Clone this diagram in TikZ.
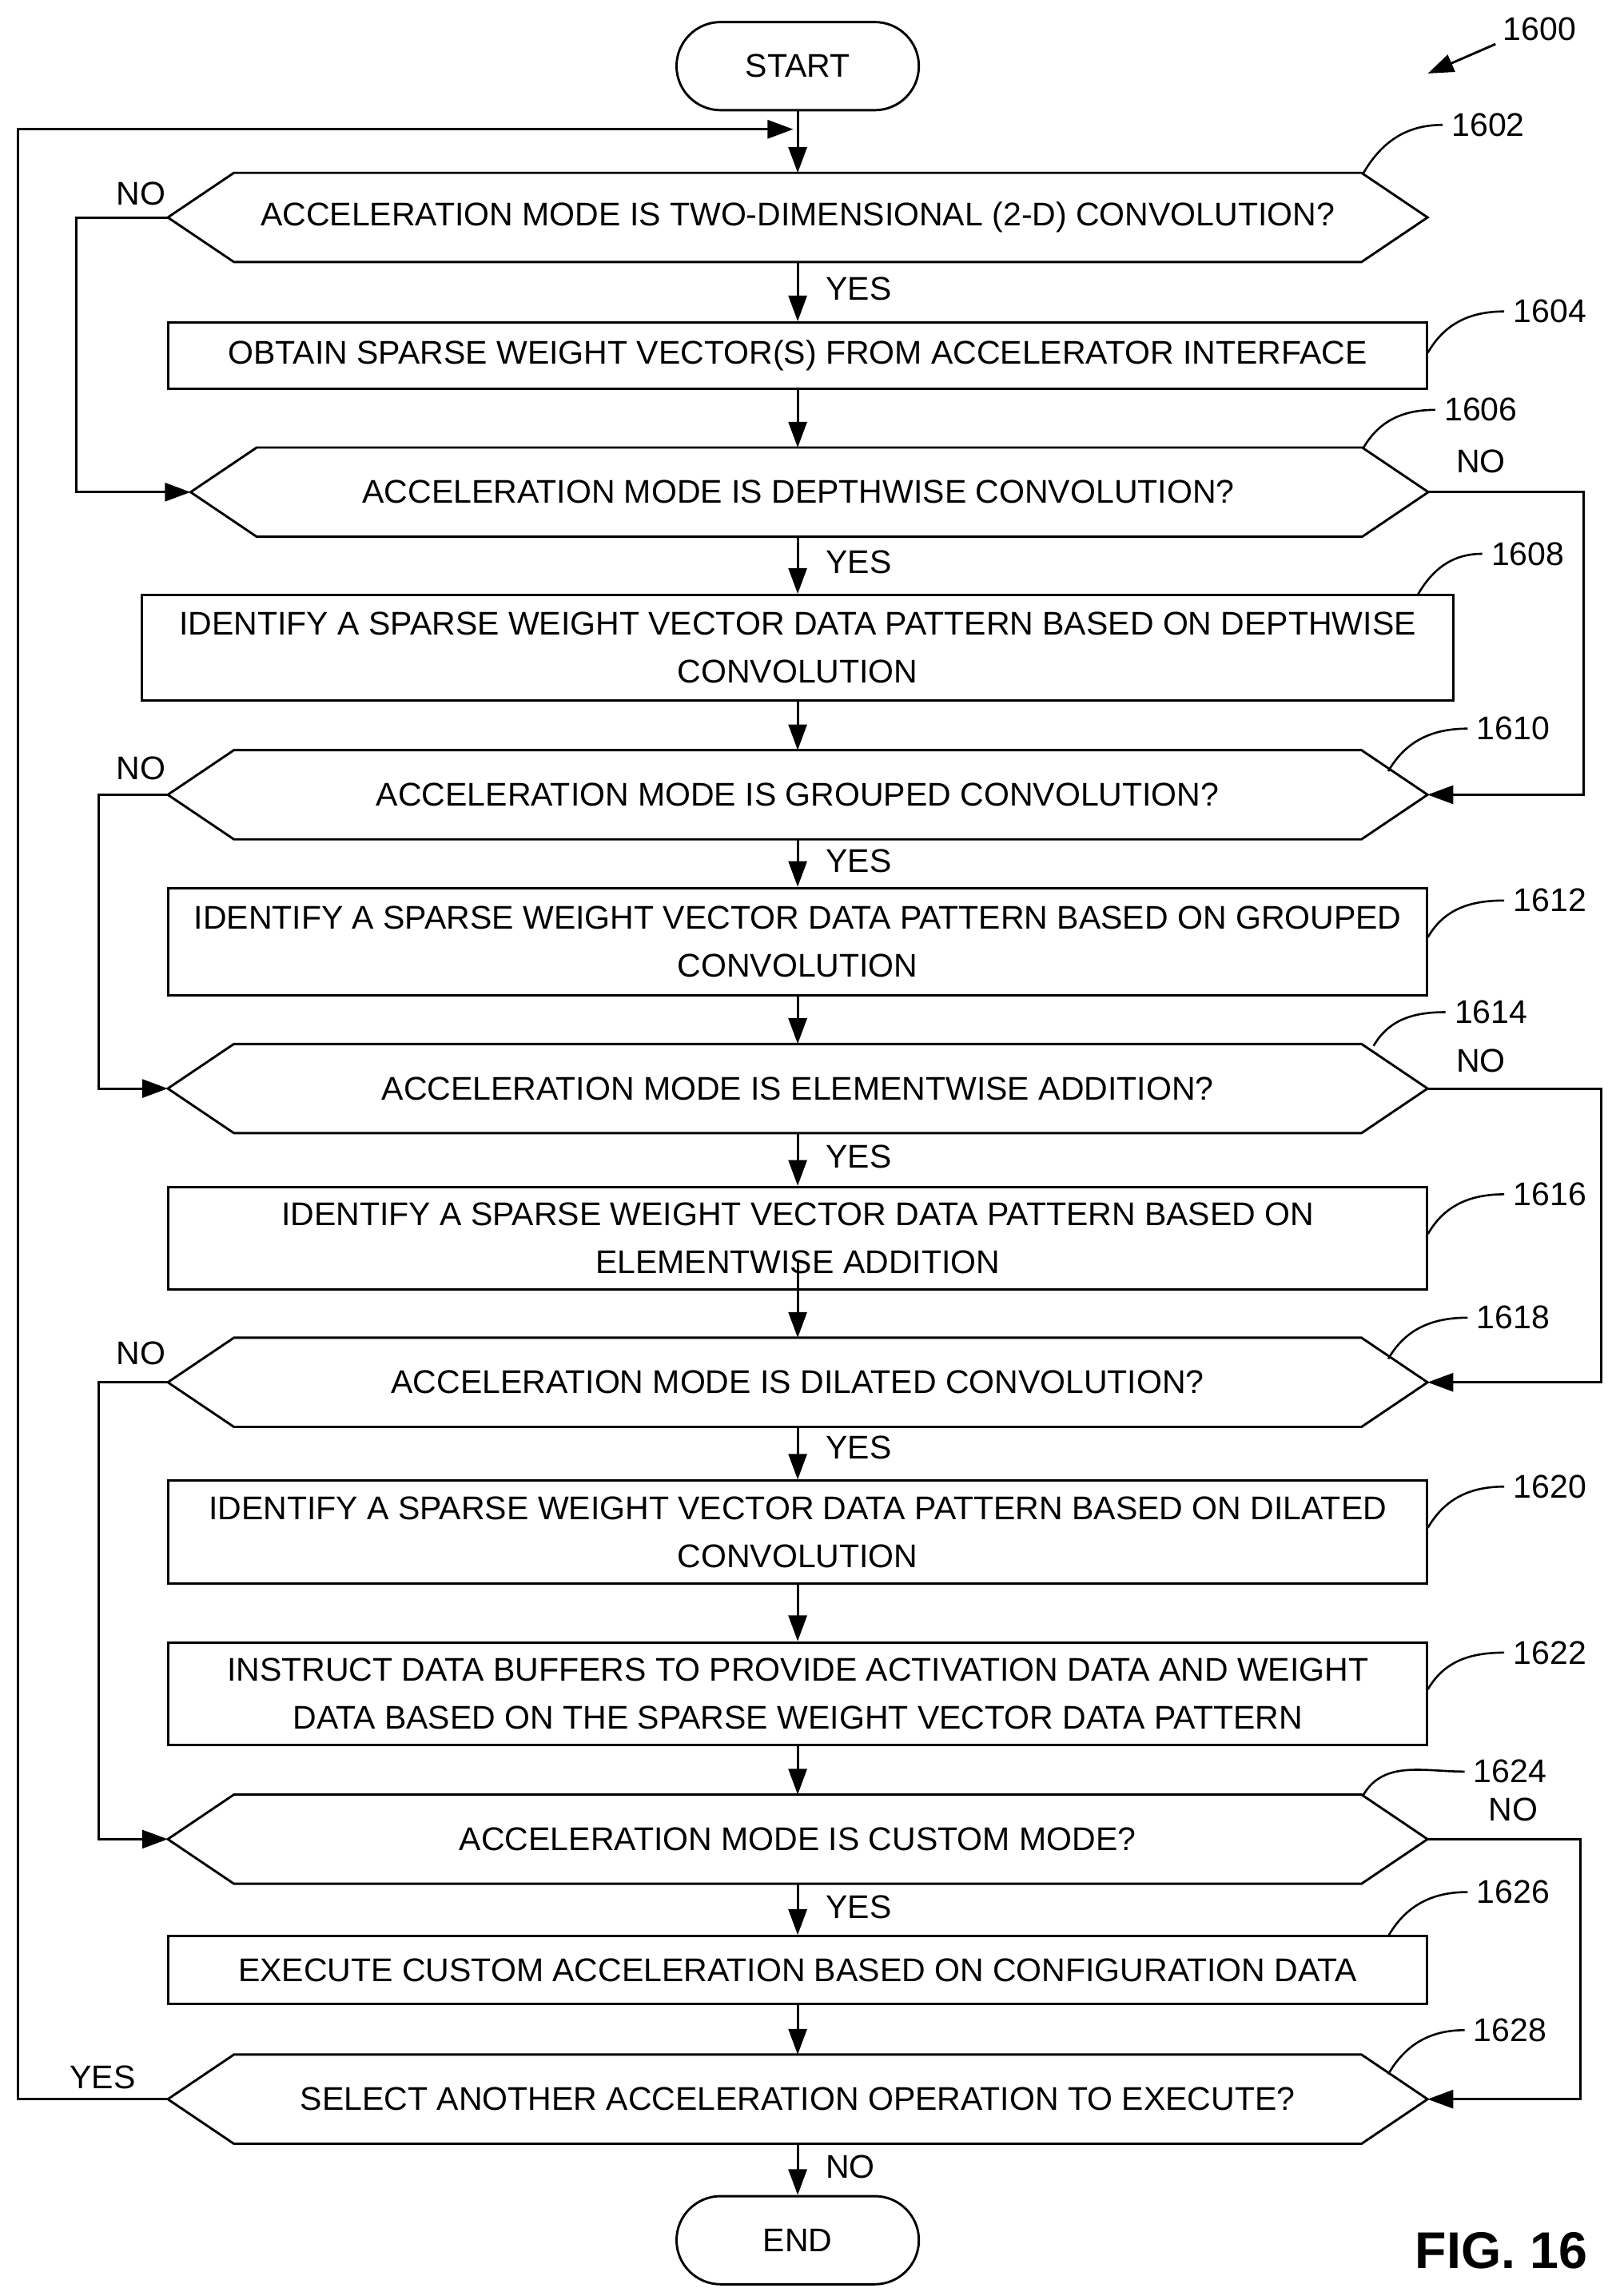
\documentclass[tikz,border=0pt]{standalone}
\usepackage{fontspec}
\setmainfont{Liberation Sans}
\usetikzlibrary{arrows.meta}
\begin{document}
\begin{tikzpicture}[x=0.02cm,y=-0.02cm,
  every node/.style={font=\fontsize{12.7}{18.5}\selectfont},
  box/.style={draw,line width=0.9pt,minimum width=17.14cm,align=center,inner sep=0pt},
  hx/.style={minimum width=17.14cm,minimum height=1.2cm,inner sep=0pt},
  term/.style={draw,line width=0.9pt,rounded corners=0.6cm,minimum width=3.3cm,minimum height=1.2cm},
  ar/.style={line width=0.9pt,-{Triangle[length=0.35cm,width=0.25cm]}},
  ln/.style={line width=0.9pt},
  lead/.style={line width=0.8pt}]
\useasboundingbox (0,0) rectangle (1100,1563);
\newcommand{\hexdraw}[1]{\draw[line width=0.9pt] (#1.west) -- ([xshift=0.9cm]#1.north west) -- ([xshift=-0.9cm]#1.north east) -- (#1.east) -- ([xshift=-0.9cm]#1.south east) -- ([xshift=0.9cm]#1.south west) -- cycle;}
\node[term] (start) at (543,45) {START};
\node[hx] (d1602) at (543,148) {ACCELERATION MODE IS TWO-DIMENSIONAL (2-D) CONVOLUTION?}; \hexdraw{d1602}
\node[box,minimum height=0.9cm] (b1604) at (543,242) {OBTAIN SPARSE WEIGHT VECTOR(S) FROM ACCELERATOR INTERFACE};
\node[hx,minimum width=16.84cm] (d1606) at (551,335) {\hspace*{-0.3cm}ACCELERATION MODE IS DEPTHWISE CONVOLUTION?}; \hexdraw{d1606}
\node[box,minimum width=17.86cm,minimum height=1.44cm] (b1608) at (543,441) {IDENTIFY A SPARSE WEIGHT VECTOR DATA PATTERN BASED ON DEPTHWISE\\CONVOLUTION};
\node[hx] (d1610) at (543,541) {ACCELERATION MODE IS GROUPED CONVOLUTION?}; \hexdraw{d1610}
\node[box,minimum height=1.46cm] (b1612) at (543,641) {IDENTIFY A SPARSE WEIGHT VECTOR DATA PATTERN BASED ON GROUPED\\CONVOLUTION};
\node[hx] (d1614) at (543,741) {ACCELERATION MODE IS ELEMENTWISE ADDITION?}; \hexdraw{d1614}
\node[box,minimum height=1.4cm] (b1616) at (543,843) {IDENTIFY A SPARSE WEIGHT VECTOR DATA PATTERN BASED ON\\ELEMENTWISE ADDITION};
\node[hx] (d1618) at (543,941) {ACCELERATION MODE IS DILATED CONVOLUTION?}; \hexdraw{d1618}
\node[box,minimum height=1.4cm] (b1620) at (543,1043) {IDENTIFY A SPARSE WEIGHT VECTOR DATA PATTERN BASED ON DILATED\\CONVOLUTION};
\node[box,minimum height=1.4cm] (b1622) at (543,1153) {INSTRUCT DATA BUFFERS TO PROVIDE ACTIVATION DATA AND WEIGHT\\DATA BASED ON THE SPARSE WEIGHT VECTOR DATA PATTERN};
\node[hx] (d1624) at (543,1252) {ACCELERATION MODE IS CUSTOM MODE?}; \hexdraw{d1624}
\node[box,minimum height=0.92cm] (b1626) at (543,1341) {EXECUTE CUSTOM ACCELERATION BASED ON CONFIGURATION DATA};
\node[hx] (d1628) at (543,1429) {SELECT ANOTHER ACCELERATION OPERATION TO EXECUTE?}; \hexdraw{d1628}
\node[term] (end) at (543,1525) {END};
% main flow
\coordinate (top) at (543,88);
\draw[ln] (start) -- (top);
\draw[ar] (top) -- (d1602.north);
\draw[ar] (d1602.south) -- node[right=0.25cm,pos=0.45]{YES} (b1604.north);
\draw[ar] (b1604.south) -- (b1604.south|-d1606.north);
\draw[ar] (b1608.north|-d1606.south) -- node[right=0.25cm,pos=0.45]{YES} (b1608.north);
\draw[ar] (b1608.south) -- (d1610.north);
\draw[ar] (d1610.south) -- node[right=0.25cm,pos=0.45]{YES} (b1612.north);
\draw[ar] (b1612.south) -- (d1614.north);
\draw[ar] (d1614.south) -- node[right=0.25cm,pos=0.45]{YES} (b1616.north);
\draw[ar] ([yshift=0.4cm]b1616.south) -- (d1618.north);
\draw[ar] (d1618.south) -- node[right=0.25cm,pos=0.4]{YES} (b1620.north);
\draw[ar] (b1620.south) -- (b1622.north);
\draw[ar] (b1622.south) -- (d1624.north);
\draw[ar] (d1624.south) -- node[right=0.25cm,pos=0.45]{YES} (b1626.north);
\draw[ar] (b1626.south) -- (d1628.north);
\draw[ar] (d1628.south) -- node[right=0.25cm,pos=0.45]{NO} (end.north);
% branches
\draw[ar] (d1602.west) -- (52,148) -- (52,335) -- (d1606.west);
\node at (96,132) {NO};
\draw[ar] (d1606.east) -- (1078,335) -- (1078,541) -- (d1610.east);
\node at (1008,314) {NO};
\draw[ar] (d1610.west) -- (67,541) -- (67,741) -- (d1614.west);
\node at (96,523) {NO};
\draw[ar] (d1614.east) -- (1090,741) -- (1090,941) -- (d1618.east);
\node at (1008,722) {NO};
\draw[ar] (d1618.west) -- (67,941) -- (67,1252) -- (d1624.west);
\node at (96,921) {NO};
\draw[ar] (d1624.east) -- (1076,1252) -- (1076,1429) -- (d1628.east);
\node at (1030,1232) {NO};
\draw[ar] (d1628.west) -- (12,1429) -- (12,88) -- ([xshift=-0.06cm]top);
\node at (70,1414) {YES};
% reference labels
\node (r1600) at (1048,20) {1600};
\draw[ar] (1018,30) -- (972,50);
\node (r1602) at (1013,85) {1602};
\draw[lead] (928,118) to[out=60,in=180] (r1602.west);
\node (r1604) at (1055,212) {1604};
\draw[lead] (972,240) to[out=60,in=180] (r1604.west);
\node (r1606) at (1008,279) {1606};
\draw[lead] (928,305) to[out=60,in=180] (r1606.west);
\node (r1608) at (1040,377) {1608};
\draw[lead] (965,405) to[out=60,in=180] (r1608.west);
\node (r1610) at (1030,496) {1610};
\draw[lead] (945,525) to[out=60,in=180] (r1610.west);
\node (r1612) at (1055,613) {1612};
\draw[lead] (972,638) to[out=60,in=180] (r1612.west);
\node (r1614) at (1015,689) {1614};
\draw[lead] (935,712) to[out=60,in=180] (r1614.west);
\node (r1616) at (1055,813) {1616};
\draw[lead] (972,840) to[out=60,in=180] (r1616.west);
\node (r1618) at (1030,897) {1618};
\draw[lead] (945,925) to[out=60,in=180] (r1618.west);
\node (r1620) at (1055,1012) {1620};
\draw[lead] (972,1040) to[out=60,in=180] (r1620.west);
\node (r1622) at (1055,1125) {1622};
\draw[lead] (972,1150) to[out=60,in=180] (r1622.west);
\node (r1624) at (1028,1206) {1624};
\draw[lead] (928,1222) to[out=60,in=180] (r1624.west);
\node (r1626) at (1030,1288) {1626};
\draw[lead] (945,1318) to[out=60,in=180] (r1626.west);
\node (r1628) at (1028,1382) {1628};
\draw[lead] (945,1412) to[out=60,in=180] (r1628.west);
\node[font=\fontsize{20}{24}\selectfont\bfseries] (fig) at (1022,1532) {FIG. 16};
\end{tikzpicture}
\end{document}
